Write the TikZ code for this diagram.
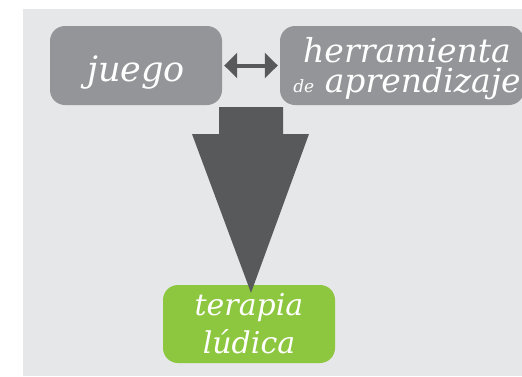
\documentclass[tikz,border=0pt]{standalone}
\usepackage{fontspec}
\setmainfont{DejaVu Serif}
\usetikzlibrary{arrows.meta,positioning}
\definecolor{bggray}{HTML}{E6E7E8}
\definecolor{boxgray}{HTML}{939598}
\definecolor{darkgray}{HTML}{58595B}
\definecolor{ludgreen}{HTML}{8DC63F}
\newcommand{\lowtext}[2]{\raisebox{-#1}[0pt][0pt]{\makebox[0pt]{#2}}}
\begin{document}
\begin{tikzpicture}[x=1pt,y=-1pt,
    box/.style={shape=rectangle,rounded corners=15pt,fill=boxgray,text=white,
        inner sep=0pt,font=\itshape},
    link/.style={darkgray,line width=4pt,
        {Triangle[length=13pt,width=25pt]}-{Triangle[length=13pt,width=25pt]}}]
    \useasboundingbox (0,0) rectangle (522,376);
    \fill[bggray] (23,9) rectangle (522,376);

    \node[box,minimum width=172pt,minimum height=79pt,
        font=\fontsize{35}{35}\selectfont\itshape] (juego) at (136,65.5)
        {\lowtext{16pt}{juego}};
    \node[box,minimum width=244pt,minimum height=79pt,align=center,
        font=\fontsize{33}{30}\selectfont\itshape] (herr) at (402,65.5)
        {\lowtext{12pt}{\hspace*{10pt}herramienta}\\
         \lowtext{12pt}{\hspace*{10pt}{\fontsize{17}{17}\selectfont de} aprendizaje}};
    \node[box,fill=ludgreen,minimum width=172pt,minimum height=78pt,align=center,
        font=\fontsize{30}{38}\selectfont\itshape] (terapia) at (249,324)
        {\lowtext{10pt}{terapia}\\\lowtext{10pt}{lúdica}};

    \path[link] (juego) edge[shorten <=2pt,shorten >=2pt] (herr);

    %big arrow down to terapia
    \coordinate (top) at (251,107);
    \coordinate (tip) at ([yshift=-8pt]terapia.north -| top);
    \fill[darkgray] (top) ++(-32,0) -- ++(64,0) -- ++(0,27) -- ++(26,0)
        -- (tip) -- ([xshift=-59pt,yshift=-27pt]top) -- ++(27,0) -- cycle;
\end{tikzpicture}
\end{document}
